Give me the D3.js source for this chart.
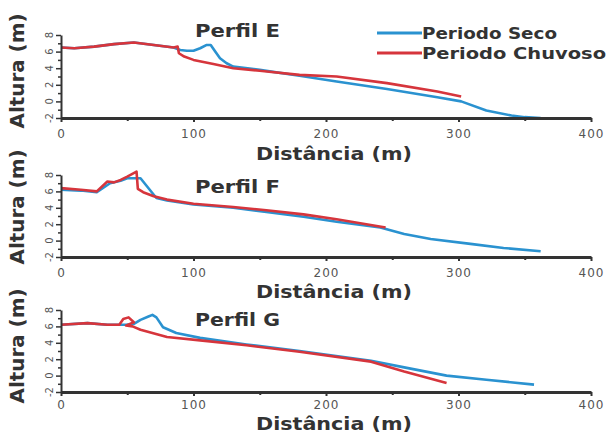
<!DOCTYPE html>
<html>
<head>
<meta charset="utf-8">
<script src="https://cdn.jsdelivr.net/npm/d3@7"></script>
<style>
body { margin: 0; background: #fff; }
svg { display: block; }
</style>
</head>
<body>
<div id="viz"></div>
<script>

// axis ticks
var xTicks = [0, 100, 200, 300, 400];
var xMinor = [50, 150, 250, 350];
var yTicks = [-2, 0, 2, 4, 6, 8];
var yMinor = [-1, 1, 3, 5, 7];

var seriesNames = ["Periodo Seco", "Periodo Chuvoso"];
var panelNames = ["Perfil E", "Perfil F", "Perfil G"];

// [distancia, altura]
var secoE = [[0,6.5],[10,6.4],[25,6.6],[40,6.9],[55,7.1],[70,6.8],[85,6.5],[90,6.2],[95,6.1],[100,6.1],
    [105,6.4],[110,6.8],[113,6.8],[116,6.1],[120,5.2],[125,4.6],[130,4.2],[150,3.8],[180,3.1],[208,2.4],
    [246,1.5],[284,0.5],[302,0.0],[321,-1.1],[340,-1.7],[350,-1.9],[362,-2.0]];
var chuvE = [[0,6.5],[10,6.4],[25,6.6],[40,6.9],[55,7.1],[70,6.8],[85,6.5],[88,6.6],[89,5.8],[93,5.4],
    [100,5.0],[115,4.5],[130,4.0],[150,3.7],[180,3.2],[208,3.0],[246,2.2],[284,1.2],[302,0.6]];

var secoF = [[0,6.2],[15,6.1],[27,5.9],[37,7.0],[45,7.3],[50,7.6],[60,7.6],[65,6.6],[72,5.2],[80,4.9],
    [100,4.4],[130,4.0],[155,3.5],[183,2.9],[208,2.3],[241,1.6],[259,0.8],[279,0.2],[309,-0.4],
    [334,-0.9],[362,-1.3]];
var chuvF = [[0,6.4],[15,6.2],[27,6.0],[35,7.2],[40,7.1],[45,7.4],[50,7.8],[57,8.4],[58,6.3],[62,5.9],
    [70,5.4],[80,5.0],[100,4.5],[130,4.1],[155,3.7],[183,3.2],[208,2.6],[245,1.6]];

var secoG = [[0,6.2],[20,6.4],[35,6.2],[49,6.2],[55,6.3],[60,6.8],[66,7.2],[69,7.4],[72,7.1],[77,5.9],
    [87,5.2],[105,4.6],[140,3.8],[180,3.0],[234,1.8],[259,1.0],[291,0.0],[321,-0.5],[357,-1.1]];
var chuvG = [[0,6.2],[20,6.4],[35,6.2],[44,6.2],[47,6.9],[51,7.1],[55,6.5],[49,6.1],[54,6.0],[60,5.6],
    [80,4.7],[105,4.3],[140,3.7],[180,2.9],[234,1.7],[259,0.5],[291,-0.9]];

var _colors = { seco: "#2a92d0", chuvoso: "#d6353c" };
var _ink = "#333";

var svg = d3.select("#viz")
    .append("svg")
    .attr("width", 608)
    .attr("height", 434);

var x = d3.scaleLinear().domain([0, 400]).range([61, 591]);

var panels = [
    { name: panelNames[0], seco: secoE, chuv: chuvE, top: 35, bottom: 118, titleY: 37, ylabY: 71, xlabY: 160, pad: 7 },
    { name: panelNames[1], seco: secoF, chuv: chuvF, top: 175, bottom: 257, titleY: 193, ylabY: 207, xlabY: 298, pad: 7 },
    { name: panelNames[2], seco: secoG, chuv: chuvG, top: 310, bottom: 392, titleY: 326, ylabY: 346, xlabY: 430, pad: 4 }
];

panels.forEach(function(p){
    var y = d3.scaleLinear().domain([-2, 8]).range([p.bottom, p.top]);
    var g = svg.append("g").attr("class", "panel");

    var line = d3.line()
        .x(function(d){ return x(d[0]); })
        .y(function(d){ return y(d[1]); });

    // lines
    g.append("path").datum(p.seco)
        .attr("d", line)
        .attr("fill", "none")
        .attr("stroke", _colors.seco)
        .attr("stroke-width", 2.6)
        .attr("stroke-linejoin", "round");
    g.append("path").datum(p.chuv)
        .attr("d", line)
        .attr("fill", "none")
        .attr("stroke", _colors.chuvoso)
        .attr("stroke-width", 2.6)
        .attr("stroke-linejoin", "round");

    // x axis
    var xa = g.append("g")
        .attr("transform", "translate(0," + p.bottom + ")")
        .call(d3.axisBottom(x).tickValues(xTicks).tickSize(4).tickPadding(p.pad).tickSizeOuter(0));
    xa.select(".domain").attr("stroke", _ink).attr("stroke-width", 3);
    xa.selectAll(".tick line").attr("stroke", _ink).attr("stroke-width", 2);
    xa.selectAll(".tick text")
        .attr("fill", "#555")
        .style("font-family", "'DejaVu Sans', sans-serif")
        .style("font-size", "12px")
        .style("letter-spacing", "1px");

    var xm = g.append("g")
        .attr("transform", "translate(0," + p.bottom + ")")
        .call(d3.axisBottom(x).tickValues(xMinor).tickSize(3).tickFormat("").tickSizeOuter(0));
    xm.select(".domain").remove();
    xm.selectAll(".tick line").attr("stroke", _ink).attr("stroke-width", 2);

    // y axis
    var ya = g.append("g")
        .attr("transform", "translate(61,0)")
        .call(d3.axisLeft(y).tickValues(yTicks).tickSize(5).tickFormat("").tickSizeOuter(0));
    ya.select(".domain").attr("stroke", _ink).attr("stroke-width", 2);
    ya.selectAll(".tick line").attr("stroke", _ink).attr("stroke-width", 1.5);

    var ym = g.append("g")
        .attr("transform", "translate(61,0)")
        .call(d3.axisLeft(y).tickValues(yMinor).tickSize(3).tickFormat("").tickSizeOuter(0));
    ym.select(".domain").remove();
    ym.selectAll(".tick line").attr("stroke", _ink).attr("stroke-width", 1.5);

    g.selectAll("text.ylab")
        .data(yTicks)
        .enter()
        .append("text")
        .attr("class", "ylab")
        .attr("transform", function(d){ return "translate(53," + y(d) + ") rotate(-90)"; })
        .attr("text-anchor", "middle")
        .attr("fill", "#555")
        .style("font-family", "'DejaVu Sans', sans-serif")
        .style("font-size", "10px")
        .text(function(d){ return d; });

    // titles
    g.append("text")
        .attr("x", 195).attr("y", p.titleY)
        .attr("textLength", 85).attr("lengthAdjust", "spacingAndGlyphs")
        .attr("fill", _ink)
        .style("font-family", "'DejaVu Sans', sans-serif")
        .style("font-weight", "bold")
        .style("font-size", "17px")
        .text(p.name);

    g.append("text")
        .attr("x", 334).attr("y", p.xlabY)
        .attr("text-anchor", "middle")
        .attr("textLength", 156).attr("lengthAdjust", "spacingAndGlyphs")
        .attr("fill", _ink)
        .style("font-family", "'DejaVu Sans', sans-serif")
        .style("font-weight", "bold")
        .style("font-size", "17px")
        .text("Distância (m)");

    g.append("text")
        .attr("transform", "translate(24," + p.ylabY + ") rotate(-90)")
        .attr("text-anchor", "middle")
        .attr("textLength", 115).attr("lengthAdjust", "spacingAndGlyphs")
        .attr("fill", _ink)
        .style("font-family", "'DejaVu Sans', sans-serif")
        .style("font-weight", "bold")
        .style("font-size", "20px")
        .text("Altura (m)");
});

// legend
var legend = svg.append("g").attr("class", "legend");
var legItems = [
    { name: seriesNames[0], color: _colors.seco, y: 33, w: 135 },
    { name: seriesNames[1], color: _colors.chuvoso, y: 53, w: 184 }
];
legItems.forEach(function(d){
    legend.append("line")
        .attr("x1", 377).attr("x2", 422)
        .attr("y1", d.y).attr("y2", d.y)
        .attr("stroke", d.color)
        .attr("stroke-width", 3);
    legend.append("text")
        .attr("x", 422).attr("y", d.y + 5.5)
        .attr("textLength", d.w).attr("lengthAdjust", "spacingAndGlyphs")
        .attr("fill", _ink)
        .style("font-family", "'DejaVu Sans', sans-serif")
        .style("font-weight", "bold")
        .style("font-size", "16px")
        .text(d.name);
});

</script>
</body>
</html>
